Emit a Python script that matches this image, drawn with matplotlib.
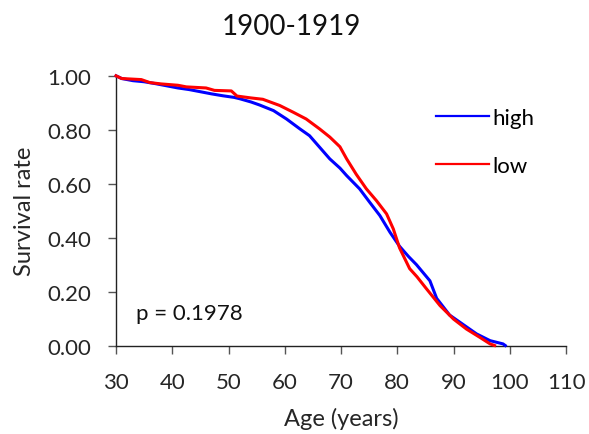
import numpy as np
import matplotlib
matplotlib.use('Agg')
from matplotlib import pyplot as plt

plt.rcParams['font.family'] = ['Lato', 'DejaVu Sans']

# survival curve for the "high" group (age, survival)
edad_high = [30, 31, 33, 35, 37, 39, 41, 43, 45, 47, 49, 51, 52, 54, 55.5,
             58, 60.3, 62.7, 64.4, 66.2, 68, 69.8, 71, 73.3, 75.1, 76.9,
             78.7, 80.4, 82, 83.4, 85.8, 87, 89.3, 91.7, 94.1, 96.5, 98.8,
             99.2]
surv_high = [1.000, 0.990, 0.982, 0.978, 0.971, 0.963, 0.955, 0.949, 0.941,
             0.933, 0.926, 0.920, 0.915, 0.903, 0.892, 0.871, 0.840, 0.803,
             0.778, 0.735, 0.692, 0.658, 0.630, 0.581, 0.531, 0.482, 0.420,
             0.368, 0.330, 0.300, 0.240, 0.175, 0.113, 0.078, 0.043, 0.018,
             0.006, 0.000]

# survival curve for the "low" group
edad_low = [30, 31, 34.5, 36, 38, 41, 42.5, 46, 47.5, 50.5, 51.5, 54, 56.1,
            59.1, 61.5, 63.8, 66.2, 68, 69.8, 71, 72.7, 74.5, 76.3, 78.1,
            79.3, 80.4, 82.2, 83.5, 85.2, 87.6, 90, 92.3, 94.7, 96.5, 97.3]
surv_low = [1.000, 0.990, 0.986, 0.975, 0.970, 0.965, 0.959, 0.955, 0.946,
            0.944, 0.925, 0.918, 0.913, 0.890, 0.865, 0.840, 0.803, 0.773,
            0.737, 0.692, 0.635, 0.581, 0.537, 0.488, 0.432, 0.362, 0.285,
            0.255, 0.210, 0.148, 0.098, 0.061, 0.030, 0.006, 0.000]

p_valor = 0.1978

fig = plt.figure(figsize=(5.89, 4.35), dpi=100)
ax = fig.add_axes([0.197, 0.2034, 0.764, 0.62])

ax.plot(edad_high, surv_high, color='#0000ff', lw=2.2, label='high',
        clip_on=False, zorder=3)
ax.plot(edad_low, surv_low, color='#ff0000', lw=2.2, label='low',
        clip_on=False, zorder=4)

ax.set_xlim(30, 110)
ax.set_ylim(0, 1)
ax.set_xticks(np.arange(30, 111, 10))
ax.set_yticks(np.arange(0, 1.01, 0.2))
ax.set_yticklabels(['%.2f' % v for v in np.arange(0, 1.01, 0.2)])
ax.spines['top'].set_visible(False)
ax.spines['right'].set_visible(False)
for s in ('left', 'bottom'):
    ax.spines[s].set_color('#222222')
    ax.spines[s].set_linewidth(1.0)
ax.tick_params(direction='out', length=6, width=1, color='#555555',
               labelsize=16, labelcolor='#262626')
ax.tick_params(axis='x', pad=13)
ax.tick_params(axis='y', pad=12)

ax.set_xlabel('Age (years)', fontsize=17, color='#262626', labelpad=11)
ax.set_ylabel('Survival rate', fontsize=17, color='#262626', labelpad=9)
fig.text(0.495, 0.937, '1900-1919', fontsize=20, color='#111111',
         ha='center', va='center')

ax.text(0.044, 0.12, 'p = %.4f' % p_valor, transform=ax.transAxes,
        fontsize=16, color='#111111', va='center')

leg = ax.legend(frameon=False, loc='upper left', bbox_to_anchor=(0.711, 0.882),
                fontsize=16, handlelength=2.4, handletextpad=0.15,
                labelspacing=1.27, borderpad=0, borderaxespad=0)
for ln in leg.get_lines():
    ln.set_linewidth(1.6)

fig.savefig('out.png', dpi=100)
